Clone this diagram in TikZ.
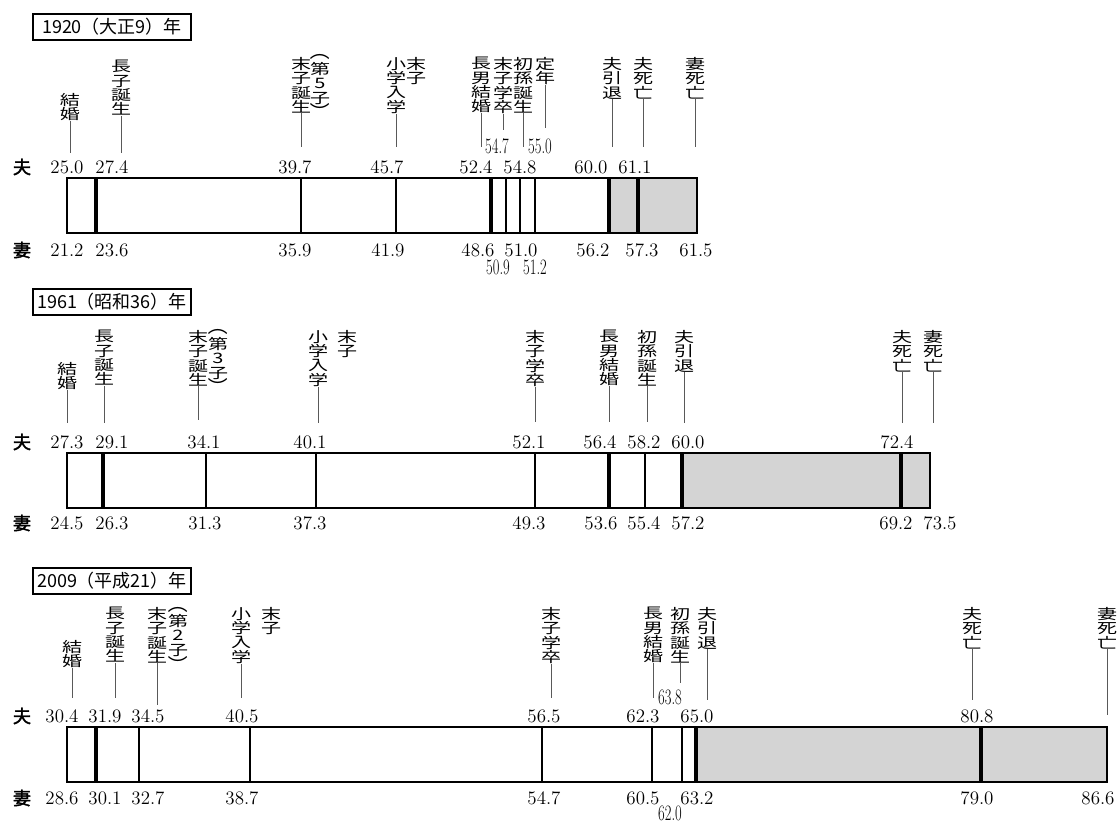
\documentclass[tikz,border=0pt]{standalone}
\usepackage{fontspec}
\newfontfamily\jp{Noto Sans CJK JP}
\newfontfamily\jpb[FakeBold=2]{Noto Sans CJK JP}
\tikzset{
  vlab/.style={font=\jp\fontsize{15}{15}\selectfont, align=center, inner sep=0pt, yscale=0.72},
  pgl/.style={font=\jp\fontsize{15}{15}\selectfont, inner sep=0pt},
  leader/.style={draw=black!65, line width=0.6pt},
  num/.style={font=\fontsize{14.25}{14.25}\selectfont, inner sep=0pt},
  snum/.style={font=\fontsize{16.5}{16.5}\selectfont, inner sep=0pt, xscale=0.66},
  who/.style={font=\jpb\fontsize{13.5}{13.5}\selectfont, inner sep=0pt},
  titlebox/.style={draw, line width=1.6pt, font=\jp\fontsize{13.5}{13.5}\selectfont, inner sep=0pt, minimum width=119pt, minimum height=20pt},
  bar/.style={draw, line width=2pt},
  shade/.style={fill=black!17},
  dv/.style={line width=1.5pt},
  dvt/.style={line width=2.3pt}
}
\newcommand{\ev}[5]{%
  \node[vlab,anchor=north] (#1) at (#2,#3) {#5};
  \coordinate (#1-e) at (#2,#4);
  \draw[leader] (#1.south) -- (#1-e);}
\newcommand{\pcol}[4]{%
  \node[pgl,rotate=-90] (#1o) at (#2,#3-4) {（};
  \node[vlab,anchor=north] (#1) at (#2,#3+7) {第\\#4\\子};
  \node[pgl,rotate=-90] (#1c) at (#2,#3+58) {）};}
\begin{document}
\begin{tikzpicture}[x=0.75pt,y=-0.75pt]
\useasboundingbox (0,0) rectangle (1118,823);

% ================= 1920 =================
\node[titlebox] (t1) at (112,27) {1920（大正9）年};
\ev{a1}{70}{93}{153}{結\\婚}
\ev{a2}{121}{60}{153}{長\\子\\誕\\生}
\ev{a3}{301}{57}{147}{末\\子\\誕\\生}
\pcol{a3p}{320}{55}{5}
\ev{a4}{396}{57}{147}{小\\学\\入\\学}
\node[vlab,anchor=north] (a4b) at (416,57) {末\\子};
\ev{a5}{481}{57}{147}{長\\男\\結\\婚}
\ev{a6}{503}{57}{130}{末\\子\\学\\卒}
\ev{a7}{523}{57}{147}{初\\孫\\誕\\生}
\ev{a8}{545}{57}{128}{定\\年}
\ev{a9}{612}{57}{147}{夫\\引\\退}
\ev{a10}{643}{57}{147}{夫\\死\\亡}
\ev{a11}{695}{57}{147}{妻\\死\\亡}

\node[who] (h1) at (22,167) {夫};
\node[who] (w1) at (22,250) {妻};
\foreach \x/\t [count=\i] in {67/25.0,112/27.4,295/39.7,387/45.7,476/52.4,520/54.8,591/60.0,635/61.1}
  \node[num] (h1n\i) at (\x,167) {\t};
\foreach \x/\t [count=\i] in {67/21.2,112/23.6,295/35.9,388/41.9,478/48.6,521/51.0,593/56.2,642/57.3,696/61.5}
  \node[num] (w1n\i) at (\x,250) {\t};
\node[snum] (s1a) at (497,146) {54.7};
\node[snum] (s1b) at (540,146) {55.0};
\node[snum] (s1c) at (498,267) {50.9};
\node[snum] (s1d) at (535,267) {51.2};

\fill[shade] (609,178) rectangle (697,233);
\draw[bar] (67,178) rectangle (697,233);
\foreach \x in {96,491,609,638} \draw[dvt] (\x,178) -- (\x,233);
\foreach \x in {301,396,506,520,535} \draw[dv] (\x,178) -- (\x,233);

% ================= 1961 =================
\node[titlebox] (t2) at (112,302) {1961（昭和36）年};
\ev{b1}{67}{362}{423}{結\\婚}
\ev{b2}{104}{330}{423}{長\\子\\誕\\生}
\ev{b3}{198}{330}{420}{末\\子\\誕\\生}
\pcol{b3p}{218}{330}{3}
\ev{b4}{318}{330}{423}{小\\学\\入\\学}
\node[vlab,anchor=north] (b4b) at (347,330) {末\\子};
\ev{b5}{535}{330}{422}{末\\子\\学\\卒}
\ev{b6}{609}{330}{422}{長\\男\\結\\婚}
\ev{b7}{647}{330}{422}{初\\孫\\誕\\生}
\ev{b8}{684}{330}{423}{夫\\引\\退}
\ev{b9}{902}{330}{423}{夫\\死\\亡}
\ev{b10}{933}{330}{423}{妻\\死\\亡}

\node[who] (h2) at (22,442) {夫};
\node[who] (w2) at (22,523) {妻};
\foreach \x/\t [count=\i] in {67/27.3,112/29.1,204/34.1,310/40.1,529/52.1,600/56.4,644/58.2,688/60.0,897/72.4}
  \node[num] (h2n\i) at (\x,442) {\t};
\foreach \x/\t [count=\i] in {67/24.5,112/26.3,205/31.3,310/37.3,529/49.3,601/53.6,644/55.4,688/57.2,896/69.2,940/73.5}
  \node[num] (w2n\i) at (\x,523) {\t};

\fill[shade] (682,453) rectangle (930,508);
\draw[bar] (67,453) rectangle (930,508);
\foreach \x in {103,609,682,901} \draw[dvt] (\x,453) -- (\x,508);
\foreach \x in {206,316,535,645} \draw[dv] (\x,453) -- (\x,508);

% ================= 2009 =================
\node[titlebox] (t3) at (112,581) {2009（平成21）年};
\ev{c1}{72}{640}{698}{結\\婚}
\ev{c2}{115}{607}{698}{長\\子\\誕\\生}
\ev{c3}{157}{607}{705}{末\\子\\誕\\生}
\pcol{c3p}{178}{607}{2}
\ev{c4}{241}{607}{698}{小\\学\\入\\学}
\node[vlab,anchor=north] (c4b) at (271,607) {末\\子};
\ev{c5}{551}{607}{698}{末\\子\\学\\卒}
\ev{c6}{653}{607}{698}{長\\男\\結\\婚}
\ev{c7}{680}{607}{683}{初\\孫\\誕\\生}
\ev{c8}{707}{607}{700}{夫\\引\\退}
\ev{c9}{972}{607}{700}{夫\\死\\亡}
\ev{c10}{1107}{607}{715}{妻\\死\\亡}

\node[who] (h3) at (22,716) {夫};
\node[who] (w3) at (22,798) {妻};
\foreach \x/\t [count=\i] in {62/30.4,105/31.9,148/34.5,242/40.5,544/56.5,643/62.3,697/65.0,977/80.8}
  \node[num] (h3n\i) at (\x,716) {\t};
\foreach \x/\t [count=\i] in {62/28.6,105/30.1,148/32.7,242/38.7,544/54.7,643/60.5,697/63.2,977/79.0,1098/86.6}
  \node[num] (w3n\i) at (\x,798) {\t};
\node[snum] (s3a) at (670,697) {63.8};
\node[snum] (s3b) at (670,813) {62.0};

\fill[shade] (696,727) rectangle (1107,782);
\draw[bar] (67,727) rectangle (1107,782);
\foreach \x in {96,696,981} \draw[dvt] (\x,727) -- (\x,782);
\foreach \x in {139,250,542,652,682} \draw[dv] (\x,727) -- (\x,782);
\end{tikzpicture}
\end{document}
